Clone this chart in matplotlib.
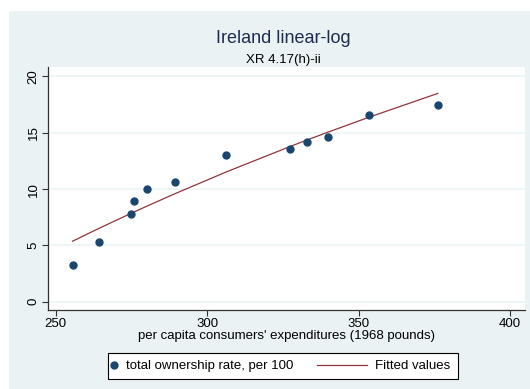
import numpy as np
import matplotlib
matplotlib.use("Agg")
import matplotlib.pyplot as plt
from matplotlib.lines import Line2D
from matplotlib.patches import Rectangle
from matplotlib.offsetbox import DrawingArea, TextArea, HPacker, AnchoredOffsetbox

plt.rcParams['font.family'] = ['Liberation Sans', 'DejaVu Sans']

# per capita consumers' expenditures (1968 pounds)
expenditure = [255.6, 264.4, 275.0, 275.8, 280.1, 289.4, 306.2, 327.3, 333.0, 340.0, 353.4, 376.1]
# total ownership rate, per 100
ownership = [3.29, 5.30, 7.79, 8.94, 10.00, 10.66, 13.00, 13.56, 14.18, 14.60, 16.60, 17.44]

x_ticks = [250, 300, 350, 400]
y_ticks = [0, 5, 10, 15, 20]

title = "Ireland linear-log"
subtitle = "XR 4.17(h)-ii"
x_label = "per capita consumers' expenditures (1968 pounds)"
legend_labels = ["total ownership rate, per 100", "Fitted values"]

navy = "#1a476f"
maroon = "#90353b"
bg = "#eaf2f3"

x = np.array(expenditure)
y = np.array(ownership)
slope, intercept = np.polyfit(np.log(x), y, 1)
xs = np.sort(x)
fitted = intercept + slope * np.log(xs)

W, H = 530, 389
fig = plt.figure(figsize=(W / 100, H / 100), dpi=100)
fig.patch.set_facecolor("white")
fig.patches.append(Rectangle((9 / W, 0), 1 - 9 / W, 1 - 11 / H,
                             transform=fig.transFigure, facecolor=bg,
                             edgecolor="none", zorder=-5))

ax = fig.add_axes([48 / W, 1 - 310 / H, (525 - 48) / W, (310 - 66.7) / H])
ax.set_zorder(2)
ax.set_facecolor("white")
ax.set_xlim(247.5, 404.9)
ax.set_ylim(-0.74, 20.87)

for t in y_ticks:
    ax.axhline(t, color=bg, lw=1.1, zorder=1)

ax.plot(x, y, 'o', color=navy, ms=5, mec=navy, zorder=3)
ax.plot(xs, fitted, '-', color=maroon, lw=0.9, zorder=2)

for s in ["top", "right"]:
    ax.spines[s].set_visible(False)
for s in ["left", "bottom"]:
    ax.spines[s].set_color("#333333")
    ax.spines[s].set_linewidth(0.9)

ax.set_xticks(x_ticks)
ax.set_yticks(y_ticks)
ax.tick_params(axis="both", length=4, width=0.8, color="#333333",
               labelsize=9.5, labelcolor="black", pad=2)
ax.set_yticklabels([str(v) for v in y_ticks], rotation=90, va="center")
ax.set_xlabel(x_label, fontsize=9.5, labelpad=0)

fig.text(283 / W, 1 - 42.7 / H, title, ha="center", va="baseline",
         fontsize=13, color="#1e2c53")
fig.text(283 / W, 1 - 62.7 / H, subtitle, ha="center", va="baseline",
         fontsize=9.5, color="black")

# legend assembled from boxes
px = 0.72
box_h = 26 * px
da_marker = DrawingArea(12 * px, box_h, 0, 0)
da_marker.add_artist(Line2D([6 * px], [box_h / 2 + 1.5 * px], marker='o', ms=5,
                            color=navy, ls=''))
gap1 = DrawingArea(6 * px, box_h)
t1 = TextArea(legend_labels[0], textprops=dict(fontsize=9.5, color="black"))
gap2 = DrawingArea(23 * px, box_h)
da_line = DrawingArea(50 * px, box_h, 0, 0)
da_line.add_artist(Line2D([0, 50 * px], [box_h / 2 + 1.5 * px, box_h / 2 + 1.5 * px],
                          color=maroon, lw=0.9))
gap3 = DrawingArea(8 * px, box_h)
t2 = TextArea(legend_labels[1], textprops=dict(fontsize=9.5, color="black"))
gap4 = DrawingArea(8 * px, box_h)
row = HPacker(children=[da_marker, gap1, t1, gap2, da_line, gap3, t2, gap4],
              align="center", pad=0, sep=0)
leg = AnchoredOffsetbox(loc="center", child=row, pad=0, borderpad=0,
                        frameon=True,
                        bbox_to_anchor=(283 / W, 1 - 366 / H),
                        bbox_transform=fig.transFigure)
leg.patch.set_edgecolor("black")
leg.patch.set_facecolor("white")
leg.patch.set_linewidth(0.8)
leg.patch.set_boxstyle("square", pad=0)
fig.add_artist(leg)

fig.savefig("out.png", dpi=100)
